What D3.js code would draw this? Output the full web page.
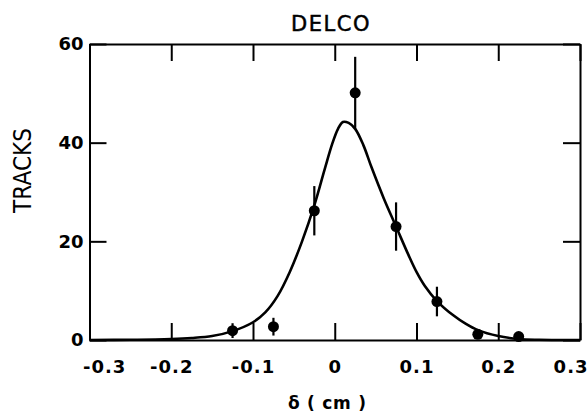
<!DOCTYPE html>
<html>
<head>
<meta charset="utf-8">
<script src="https://cdn.jsdelivr.net/npm/d3@7"></script>
<style>
  html, body { margin: 0; padding: 0; background: #fff; }
  svg { display: block; }
  .lbl { font-family: "DejaVu Sans", sans-serif; font-weight: bold; font-size: 18px; fill: #000; }
</style>
</head>
<body>
<svg id="chart" width="588" height="416"></svg>
<script>
// ---- data ----
const pointX   = [-0.125, -0.075, -0.025, 0.025, 0.075, 0.125, 0.175, 0.225];
const pointY   = [1.9, 2.7, 26.2, 50.1, 23.0, 7.8, 1.15, 0.7];
const pointErr = [1.5, 1.8, 5.0, 7.3, 4.9, 3.0, 0, 0];

const curveX = [-0.30, -0.25, -0.20, -0.175, -0.15, -0.125, -0.10, -0.085, -0.07, -0.055, -0.04, -0.025, -0.012, -0.003, 0.004, 0.01, 0.017, 0.025, 0.035, 0.045, 0.06, 0.075, 0.09, 0.10, 0.11, 0.125, 0.145, 0.16, 0.175, 0.20, 0.225, 0.25, 0.30];
const curveY = [0, 0.05, 0.2, 0.4, 0.8, 1.8, 3.6, 5.6, 8.9, 13.8, 20.0, 27.3, 34.8, 39.8, 42.8, 44.2, 44.0, 42.8, 39.5, 35.0, 28.7, 23.0, 17.3, 13.8, 11.0, 7.9, 5.0, 3.3, 2.0, 0.8, 0.2, 0.04, 0];

const xTicks = [-0.3, -0.2, -0.1, 0, 0.1, 0.2, 0.3];
const xTickLabels = ["-0.3", "-0.2", "-0.1", "0", "0.1", "0.2", "0.3"];
const yTicks = [0, 20, 40, 60];
const yTickLabels = ["0", "20", "40", "60"];

const title = "DELCO";
const xTitle = "δ ( cm )";
const yTitle = "TRACKS";

// ---- drawing ----
const svg = d3.select("#chart");
svg.append("rect").attr("width", 588).attr("height", 416).attr("fill", "#fff");

const x = d3.scaleLinear().domain([-0.3, 0.3]).range([89.5, 580]);
const y = d3.scaleLinear().domain([0, 60]).range([340, 44]);

const tickLen = 17;

const gB = svg.append("g").attr("transform", `translate(0,${y(0)})`)
  .call(d3.axisBottom(x).tickValues(xTicks).tickSize(-tickLen).tickSizeOuter(0).tickPadding(20)
    .tickFormat((d, i) => xTickLabels[i]));
const gT = svg.append("g").attr("transform", `translate(0,${y(60)})`)
  .call(d3.axisTop(x).tickValues(xTicks).tickSize(-tickLen).tickSizeOuter(0).tickFormat(""));
const gL = svg.append("g").attr("transform", `translate(${x(-0.3)},0)`)
  .call(d3.axisLeft(y).tickValues(yTicks).tickSize(-tickLen).tickSizeOuter(0).tickPadding(6)
    .tickFormat((d, i) => yTickLabels[i]));
const gR = svg.append("g").attr("transform", `translate(${x(0.3)},0)`)
  .call(d3.axisRight(y).tickValues(yTicks).tickSize(-tickLen).tickSizeOuter(0).tickFormat(""));

[gB, gT, gL, gR].forEach(g => {
  g.attr("font-family", null).attr("font-size", null);
  g.selectAll("path.domain").attr("stroke", "#000").attr("stroke-width", 2);
  g.selectAll(".tick line").attr("stroke", "#000").attr("stroke-width", 2);
  g.selectAll(".tick text").attr("class", "lbl");
});
gB.selectAll(".tick text").attr("dy", "0.71em").attr("letter-spacing", 1);
gB.selectAll(".tick text").filter(d => d === xTicks[0]).attr("text-anchor", "start").attr("dx", -7);
gB.selectAll(".tick text").filter(d => d === xTicks[xTicks.length - 1]).attr("text-anchor", "end").attr("dx", 8);

// fitted curve
const line = d3.line().x(d => x(d[0])).y(d => y(d[1])).curve(d3.curveCatmullRom.alpha(0.5));
svg.append("path")
  .datum(curveX.map((v, i) => [v, curveY[i]]))
  .attr("d", line)
  .attr("fill", "none").attr("stroke", "#000").attr("stroke-width", 2.6)
  .attr("stroke-linejoin", "round");

// error bars
const pts = pointX.map((v, i) => ({ x: v, y: pointY[i], e: pointErr[i] }));
svg.append("g").selectAll("line").data(pts.filter(d => d.e > 0)).join("line")
  .attr("x1", d => x(d.x)).attr("x2", d => x(d.x))
  .attr("y1", d => y(d.y + d.e)).attr("y2", d => y(Math.max(0, d.y - d.e)))
  .attr("stroke", "#000").attr("stroke-width", 2.2);

// points
svg.append("g").selectAll("circle").data(pts).join("circle")
  .attr("cx", d => x(d.x)).attr("cy", d => y(d.y)).attr("r", 5.5).attr("fill", "#000");

// titles
svg.append("text").attr("x", 331).attr("y", 31).attr("text-anchor", "middle")
  .attr("font-family", "DejaVu Sans, sans-serif").attr("font-size", 21).attr("letter-spacing", 1.5)
  .attr("stroke", "#000").attr("stroke-width", 0.5)
  .text(title);

svg.append("text")
  .attr("transform", "translate(31,170.5) rotate(-90)")
  .attr("text-anchor", "middle")
  .attr("font-family", "DejaVu Sans, sans-serif")
  .attr("font-size", 24)
  .attr("textLength", 85).attr("lengthAdjust", "spacingAndGlyphs")
  .text(yTitle);

svg.append("text").attr("x", 288).attr("y", 408.5)
  .attr("font-family", "DejaVu Sans, sans-serif").attr("font-size", 17).attr("font-weight", "bold")
  .attr("xml:space", "preserve").style("white-space", "pre")
  .attr("textLength", 78).attr("lengthAdjust", "spacing")
  .text(xTitle);
</script>
</body>
</html>
